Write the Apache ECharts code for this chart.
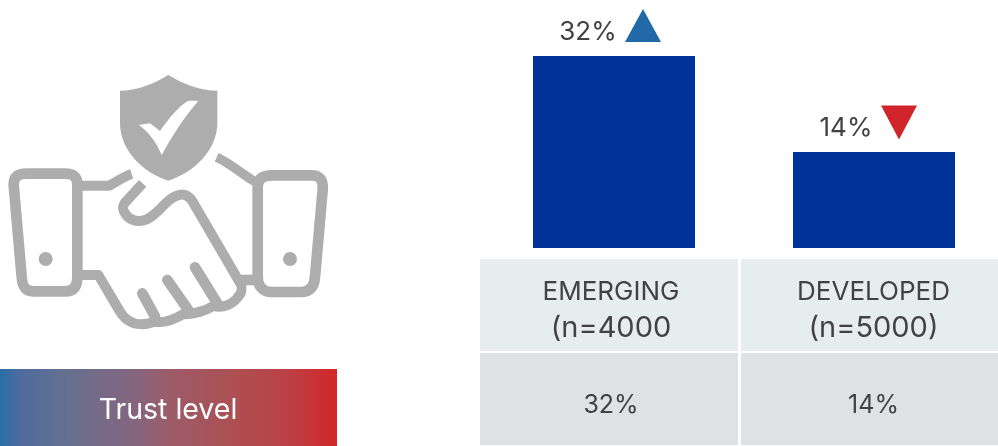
<!DOCTYPE html>
<html>
<head>
<meta charset="utf-8">
<style>html,body{margin:0;padding:0;background:#fff}#c{width:998px;height:446px}</style>
<script src="https://cdn.jsdelivr.net/npm/echarts@6/dist/echarts.min.js"></script>
</head>
<body>
<div id="c"></div>
<script>
const categories = ['EMERGING', 'DEVELOPED'];
const sampleLabels = ['(n=4000', '(n=5000)'];
const barValues = [32, 16];
const valueLabels = ['32%', '14%'];
const panelTitle = 'Trust level';

const FONT = 'Inter';
const INK = '#424242';
const GREY = '#adadad';

const iconStrokes = [
  {d:'M41,375 C41,350 55,341 80,341 L195,341 C220,341 232,350 232,375 L232,650 C232,680 220,694 195,694 L100,694 C75,694 67,680 65,650 Z', w:32},
  {d:'M773,385 C773,355 790,346 815,346 L935,346 C960,346 970,360 968,390 L945,650 C943,680 930,696 905,696 L815,696 C790,696 773,680 773,650 Z', w:32},
  {d:'M232,377 L328,377 C350,365 370,350 395,342', w:30},
  {d:'M650,292 C690,310 730,345 765,365', w:28},
  {d:'M232,645 L295,645 L360,755 C385,795 420,800 465,785 C490,790 520,780 550,762 C580,765 620,750 640,738 C670,745 700,735 722,700 C728,685 725,675 715,660 L575,420 C560,400 545,400 520,412 C490,430 470,465 440,478 C410,490 385,480 372,455 C365,440 370,435 375,428 L428,370', w:30},
  {d:'M722,660 L773,660', w:32},
  {d:'M427,700 L465,770', w:32, round:true},
  {d:'M502,660 L565,750', w:32, round:true},
  {d:'M585,622 L655,735', w:32, round:true}
];
const renderIcon = () => ({
  type:'group', x:0, y:60, scaleX:1/3, scaleY:1/3,
  children:[
    ...iconStrokes.map(s => ({type:'path', shape:{pathData:s.d}, style:{fill:'none', stroke:GREY, lineWidth:s.w, lineCap:s.round?'round':'butt', lineJoin:'round'}})),
    {type:'circle', shape:{cx:137,cy:597,r:21}, style:{fill:GREY}},
    {type:'circle', shape:{cx:870,cy:597,r:21}, style:{fill:GREY}},
    {type:'path', shape:{pathData:'M505,45 C455,75 410,92 360,92 L360,190 C360,270 430,340 505,362 C580,340 652,270 652,190 L652,92 C600,92 555,75 505,45 Z'}, style:{fill:GREY}},
    {type:'path', shape:{pathData:'M417,195 L450,190 L480,213 C510,170 540,135 565,122 L595,122 C550,175 515,230 485,285 C470,250 450,220 417,195 Z'}, style:{fill:'#fff'}}
  ]
});

const cols = [{x:480,w:258,cx:611},{x:741,w:257,cx:873.5}];
const cells = [];
cols.forEach((c,i) => {
  cells.push({type:'rect', shape:{x:c.x,y:259,width:c.w,height:92}, style:{fill:'#e7ecef'}});
  cells.push({type:'rect', shape:{x:c.x,y:353,width:c.w,height:92}, style:{fill:'#dee2e5'}});
  cells.push({type:'text', x:c.cx, y:292, style:{text:categories[i], fill:INK, font:'400 26px '+FONT, align:'center', verticalAlign:'middle'}});
  cells.push({type:'text', x:c.cx, y:328, style:{text:sampleLabels[i], fill:INK, font:'400 29px '+FONT, align:'center', verticalAlign:'middle'}});
  cells.push({type:'text', x:c.cx, y:405, style:{text:valueLabels[i], fill:INK, font:'400 25px '+FONT, align:'center', verticalAlign:'middle'}});
});

const labelOffsets = [[-26,0],[-28,0]];
const barData = barValues.map((v,i) => ({value:v, label:{offset:labelOffsets[i]}}));

const chart = echarts.init(document.getElementById('c'), null, {renderer:'canvas'});
chart.setOption({
  animation:false,
  backgroundColor:'#fff',
  grid:{left:614, top:8, width:260, height:240},
  xAxis:{type:'category', boundaryGap:false, data:categories, axisLine:{show:false}, axisTick:{show:false}, axisLabel:{show:false}},
  yAxis:{type:'value', min:0, max:40, axisLine:{show:false}, axisTick:{show:false}, axisLabel:{show:false}, splitLine:{show:false}},
  series:[
    {type:'bar', barWidth:162, data:barData, itemStyle:{color:'#003399'},
     label:{show:true, position:'top', distance:11, formatter:p => valueLabels[p.dataIndex],
            color:INK, fontFamily:FONT, fontWeight:400, fontSize:26}},
    {type:'scatter', data:[barValues[0], null], symbol:'triangle', symbolSize:[36,33], symbolOffset:[29,-30.5], itemStyle:{color:'#2269a9', opacity:1}},
    {type:'scatter', data:[null, barValues[1]], symbol:'triangle', symbolRotate:180, symbolSize:[36,34], symbolOffset:[25,-29.5], itemStyle:{color:'#d0252b', opacity:1}},
    {type:'custom', coordinateSystem:'none', data:[0], silent:true, renderItem:renderIcon}
  ],
  graphic:[
    {type:'rect', shape:{x:0,y:369,width:337,height:77},
     style:{fill:new echarts.graphic.LinearGradient(0,0,1,0,[
       {offset:0,color:'#2a6eaa'},{offset:0.06,color:'#4f6b9d'},{offset:0.2,color:'#66708f'},
       {offset:0.4,color:'#85657f'},{offset:0.5,color:'#9c5c6a'},{offset:0.7,color:'#ad4f52'},
       {offset:0.85,color:'#ba4144'},{offset:1,color:'#d2262b'}])}},
    {type:'text', x:168, y:410, style:{text:panelTitle, fill:'#fff', font:'400 28.5px '+FONT, align:'center', verticalAlign:'middle'}},
    ...cells
  ]
});
</script>
</body>
</html>
